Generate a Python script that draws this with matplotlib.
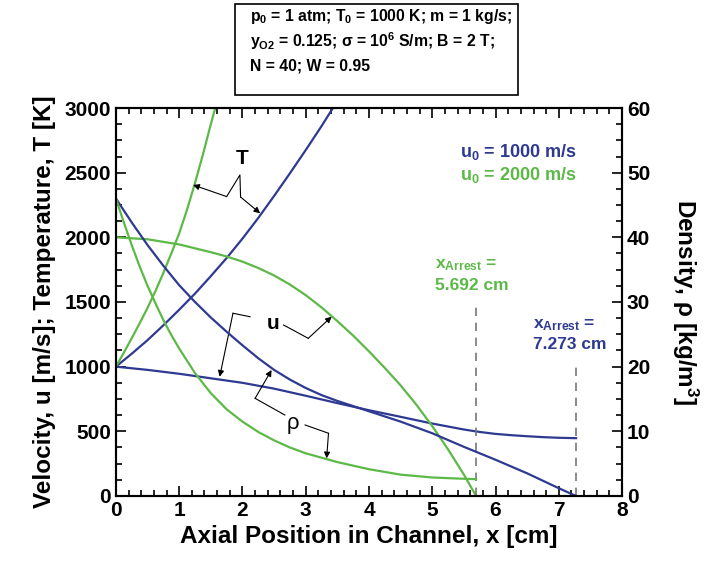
import matplotlib
matplotlib.use('Agg')
import matplotlib.pyplot as plt
from matplotlib.ticker import MultipleLocator
from matplotlib.patches import Rectangle

plt.rcParams['font.family'] = ['Liberation Sans', 'DejaVu Sans']
plt.rcParams['font.weight'] = 'bold'
plt.rcParams['mathtext.fontset'] = 'custom'
plt.rcParams['mathtext.rm'] = 'Liberation Sans:bold'
plt.rcParams['mathtext.it'] = 'Liberation Sans:bold'
plt.rcParams['mathtext.bf'] = 'Liberation Sans:bold'
plt.rcParams['mathtext.sf'] = 'Liberation Sans:bold'

BLUE = '#2e3a92'
GREEN = '#5cb947'

# u0 = 1000 m/s case
x_T_1000 = [0, 0.25, 0.5, 0.75, 1.0, 1.25, 1.5, 1.75, 2.0, 2.25, 2.5, 2.75, 3.0, 3.25, 3.43, 3.55]
T_1000 = [1000, 1100, 1205, 1320, 1440, 1565, 1700, 1840, 1990, 2150, 2320, 2495, 2675, 2860, 3000, 3090]
x_u_1000 = [0, 0.5, 1.0, 1.5, 2.0, 2.5, 3.0, 3.5, 4.0, 4.5, 5.0, 5.5, 5.75, 6.0, 6.25, 6.5, 6.75, 7.0, 7.273]
u_1000 = [1000, 975, 945, 910, 875, 830, 775, 718, 663, 612, 560, 514, 495, 480, 470, 462, 455, 450, 447]
x_rho_1000 = [0, 0.25, 0.5, 0.75, 1.0, 1.25, 1.5, 1.75, 2.0, 2.25, 2.5, 2.75, 3.0, 3.25, 3.5, 3.75,
              4.0, 4.5, 5.0, 5.5, 6.0, 6.5, 7.0, 7.273]
rho_1000 = [46.0, 42.3, 38.8, 35.6, 32.6, 30.0, 27.6, 25.4, 23.3, 21.3, 19.5, 18.0, 16.7, 15.6, 14.7, 13.9,
            13.1, 11.5, 9.7, 7.6, 5.6, 3.5, 1.2, 0.0]

# u0 = 2000 m/s case
x_T_2000 = [0, 0.125, 0.25, 0.375, 0.5, 0.625, 0.75, 0.875, 1.0, 1.125, 1.25, 1.375, 1.5, 1.57, 1.63]
T_2000 = [1000, 1108, 1220, 1335, 1455, 1585, 1725, 1875, 2030, 2215, 2420, 2640, 2875, 3000, 3110]
x_u_2000 = [0, 0.5, 1.0, 1.5, 1.75, 2.0, 2.25, 2.5, 2.75, 3.0, 3.25, 3.5, 3.75, 4.0, 4.25, 4.5, 4.75,
            5.0, 5.25, 5.5, 5.692]
u_2000 = [2000, 1985, 1945, 1885, 1852, 1812, 1763, 1705, 1635, 1553, 1458, 1352, 1240, 1118, 990, 855, 705,
          540, 360, 165, 0]
x_rho_2000 = [0, 0.125, 0.25, 0.375, 0.5, 0.625, 0.75, 0.875, 1.0, 1.25, 1.5, 1.75, 2.0, 2.25, 2.5,
              2.75, 3.0, 3.5, 4.0, 4.5, 5.0, 5.5, 5.692]
rho_2000 = [46.0, 42.3, 38.8, 35.5, 32.5, 29.8, 27.2, 24.9, 22.8, 19.0, 15.9, 13.4, 11.5, 9.9, 8.6,
            7.5, 6.6, 5.24, 4.14, 3.3, 2.86, 2.66, 2.6]

x_arrest = [5.692, 7.273]
arrest_top = [1464, 1000]

fig = plt.figure(figsize=(7.2, 5.64), dpi=100)
ax = fig.add_axes([0.161, 0.1206, 0.703, 0.6879])
ax2 = ax.twinx()

lw = 1.6
ax.plot(x_T_1000, T_1000, color=BLUE, lw=lw)
ax.plot(x_u_1000, u_1000, color=BLUE, lw=lw)
ax2.plot(x_rho_1000, rho_1000, color=BLUE, lw=lw)
ax.plot(x_T_2000, T_2000, color=GREEN, lw=lw)
ax.plot(x_u_2000, u_2000, color=GREEN, lw=lw)
ax2.plot(x_rho_2000, rho_2000, color=GREEN, lw=lw)

for xa, top in zip(x_arrest, arrest_top):
    ax.plot([xa, xa], [0, top], color='#777777', lw=1.2, ls=(0, (5, 4)))

ax.set_xlim(0, 8)
ax.set_ylim(0, 3000)
ax2.set_ylim(0, 60)
ax.xaxis.set_major_locator(MultipleLocator(1))
ax.xaxis.set_minor_locator(MultipleLocator(0.2))
ax.yaxis.set_major_locator(MultipleLocator(500))
ax.yaxis.set_minor_locator(MultipleLocator(125))
ax2.yaxis.set_major_locator(MultipleLocator(10))
ax2.yaxis.set_minor_locator(MultipleLocator(2.5))

ax.tick_params(which='both', direction='in', top=True, right=False, width=1.2, labelsize=15)
ax.tick_params(which='major', length=7)
ax.tick_params(which='minor', length=4)
ax2.tick_params(which='both', direction='in', width=1.2, labelsize=15)
ax2.tick_params(which='major', length=7)
ax2.tick_params(which='minor', length=4)
for a in (ax, ax2):
    for s in a.spines.values():
        s.set_linewidth(1.5)

ax.set_xlabel('Axial Position in Channel, x [cm]', fontsize=17.5, fontweight='bold', labelpad=4)
ax.set_ylabel('Velocity, u [m/s]; Temperature, T [K]', fontsize=17.5, fontweight='bold', labelpad=6)
ax2.set_ylabel('Density, ρ [kg/m$^3$]', fontsize=17.5, fontweight='bold', rotation=270, labelpad=36)

# legend-like labels
ax.text(5.44, 2662, 'u$_0$ = 1000 m/s', color=BLUE, fontsize=13, va='center')
ax.text(5.44, 2482, 'u$_0$ = 2000 m/s', color=GREEN, fontsize=13, va='center')
ax.text(5.04, 1786, 'x$_{Arrest}$ =', color=GREEN, fontsize=12.5, va='center')
ax.text(5.04, 1631, '5.692 cm', color=GREEN, fontsize=12.5, va='center')
ax.text(6.59, 1322, 'x$_{Arrest}$ =', color=BLUE, fontsize=12.5, va='center')
ax.text(6.59, 1168, '7.273 cm', color=BLUE, fontsize=12.5, va='center')

# curve labels with leaders
arrow = dict(arrowstyle='-|>', lw=0.8, color='black', shrinkA=0, shrinkB=0, mutation_scale=9)
ax.text(1.99, 2611, 'T', fontsize=15, ha='center', va='center')
ax.plot([1.75, 1.96, 1.97], [2315, 2482, 2312], color='black', lw=0.8)
ax.annotate('', xy=(1.22, 2405), xytext=(1.75, 2315), arrowprops=arrow)
ax.annotate('', xy=(2.28, 2186), xytext=(1.97, 2312), arrowprops=arrow)

ax.text(2.49, 1335, 'u', fontsize=15, ha='center', va='center')
ax.plot([2.12, 1.85], [1386, 1413], color='black', lw=0.8)
ax.annotate('', xy=(1.64, 922), xytext=(1.85, 1413), arrowprops=arrow)
ax.plot([2.65, 3.04], [1322, 1219], color='black', lw=0.8)
ax.annotate('', xy=(3.41, 1387), xytext=(3.04, 1219), arrowprops=arrow)

ax.text(2.80, 562, 'ρ', fontsize=16, fontweight='normal', ha='center', va='center')
ax.plot([2.67, 2.20], [626, 755], color='black', lw=0.8)
ax.annotate('', xy=(2.46, 974), xytext=(2.20, 755), arrowprops=arrow)
ax.plot([2.99, 3.36], [549, 485], color='black', lw=0.8)
ax.annotate('', xy=(3.33, 291), xytext=(3.36, 485), arrowprops=arrow)

# parameter box
fig.patches.append(Rectangle((235 / 720, 1 - 95 / 564), 283 / 720, 91 / 564,
                             transform=fig.transFigure, fill=False, lw=1.2, ec='black'))
box_lines = ['p$_0$ = 1 atm; T$_0$ = 1000 K; m = 1 kg/s;',
             'y$_{O2}$ = 0.125; σ = 10$^6$ S/m; B = 2 T;',
             'N = 40; W = 0.95']
for i, line in enumerate(box_lines):
    fig.text(250 / 720, 1 - (17 + 24.5 * i) / 564, line, fontsize=11.3, va='center', ha='left')

fig.savefig('out.png', dpi=100)
